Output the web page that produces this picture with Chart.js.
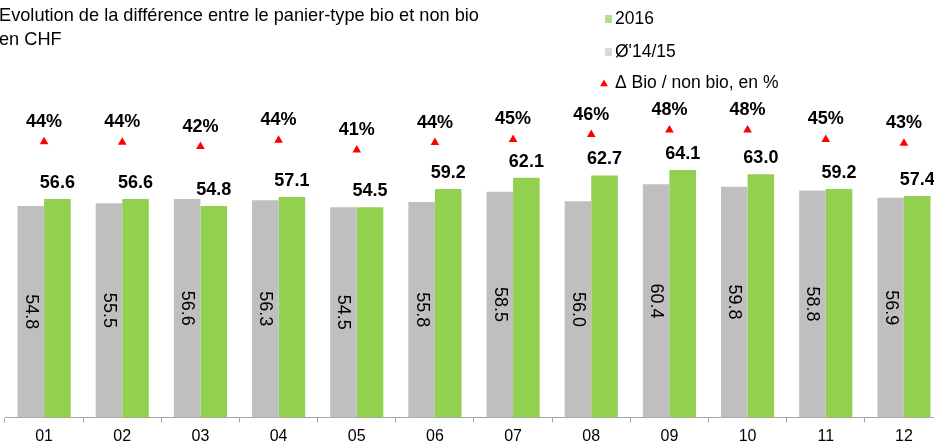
<!DOCTYPE html>
<html>
<head>
<meta charset="utf-8">
<script src="https://cdn.jsdelivr.net/npm/chart.js@4"></script>
<style>
  html, body { margin: 0; padding: 0; overflow: hidden; background: #fff; }
  #wrap { width: 950px; height: 444px; }
</style>
</head>
<body>
<div id="wrap"><canvas id="chart" width="950" height="444"></canvas></div>
<script>
const months = ['01', '02', '03', '04', '05', '06', '07', '08', '09', '10', '11', '12']
const avg1415 = [54.8, 55.5, 56.6, 56.3, 54.5, 55.8, 58.5, 56.0, 60.4, 59.8, 58.8, 56.9]
const values2016 = [56.6, 56.6, 54.8, 57.1, 54.5, 59.2, 62.1, 62.7, 64.1, 63.0, 59.2, 57.4]
const diffPct = [43.9, 43.7, 42.2, 44.4, 41.0, 43.6, 44.7, 46.4, 48.0, 48.0, 44.7, 43.4]
const titleLines = ['Evolution de la différence entre le panier-type bio et non bio', 'en CHF']

const GREEN = '#92d050'
const GREY = '#bfbfbf'
const RED = '#ff0000'
const FONT = '"Liberation Sans", Arial, sans-serif'

const triangle = (ctx, x, y, r) => {
  ctx.beginPath()
  ctx.moveTo(x, y - r)
  ctx.lineTo(x + r * 0.866, y + r * 0.5)
  ctx.lineTo(x - r * 0.866, y + r * 0.5)
  ctx.closePath()
  ctx.fill()
}

// title, legend and value labels
const decorations = {
  id: 'decorations',
  afterDatasetsDraw(chart) {
    const ctx = chart.ctx
    ctx.save()
    ctx.fillStyle = '#000'
    ctx.textAlign = 'center'
    ctx.textBaseline = 'middle'

    // grey bars: rotated value in the middle
    ctx.font = '18px ' + FONT
    chart.getDatasetMeta(0).data.forEach((bar, i) => {
      ctx.save()
      ctx.translate(bar.x, (bar.y + bar.base) / 2)
      ctx.rotate(Math.PI / 2)
      ctx.fillText(avg1415[i].toFixed(1), 0, 0)
      ctx.restore()
    })

    // green bars: bold value above
    ctx.font = 'bold 18px ' + FONT
    chart.getDatasetMeta(1).data.forEach((bar, i) => {
      ctx.fillText(values2016[i].toFixed(1), bar.x, bar.y - 16)
    })

    // percentages above the triangles
    chart.getDatasetMeta(2).data.forEach((pt, i) => {
      ctx.fillText(diffPct[i].toFixed(0) + '%', pt.x, pt.y - 20)
    })

    // title
    ctx.textAlign = 'left'
    ctx.font = '18.2px ' + FONT
    titleLines.forEach((line, i) => ctx.fillText(line, -1, 16 + i * 24))

    // legend, one entry per line
    ctx.font = '17.5px ' + FONT
    const ds = chart.data.datasets
    const entries = [
      { label: ds[1].label, color: '#b4de8c', y: 19 },
      { label: ds[0].label, color: '#d9d9d9', y: 52 },
      { label: ds[2].label, color: RED, y: 83, tri: true },
    ]
    entries.forEach(e => {
      ctx.fillStyle = e.color
      if (e.tri) triangle(ctx, 604, e.y + 1, 4.5)
      else ctx.fillRect(605, e.y - 4, 7, 8)
      ctx.fillStyle = '#000'
      ctx.fillText(e.label, 615, e.y)
    })
    ctx.restore()
  }
}

const chart = new Chart(document.getElementById('chart'), {
  type: 'bar',
  data: {
    labels: months,
    datasets: [{
      label: 'Ø\'14/15',
      data: avg1415,
      backgroundColor: GREY,
      categoryPercentage: 0.68,
      barPercentage: 1.0,
      yAxisID: 'y',
      order: 2,
    }, {
      label: '2016',
      data: values2016,
      backgroundColor: GREEN,
      categoryPercentage: 0.68,
      barPercentage: 1.0,
      yAxisID: 'y',
      order: 2,
    }, {
      type: 'line',
      label: 'Δ Bio / non bio, en %',
      data: diffPct,
      showLine: false,
      pointStyle: 'triangle',
      pointRadius: 5,
      pointBackgroundColor: RED,
      pointBorderColor: RED,
      pointBorderWidth: 0,
      yAxisID: 'y2',
      order: 1,
    }]
  },
  options: {
    responsive: false,
    animation: false,
    devicePixelRatio: 1,
    layout: { padding: { top: 108.7, left: 5, right: 7, bottom: 0 } },
    plugins: {
      legend: { display: false },
      title: { display: false },
      tooltip: { enabled: false },
    },
    scales: {
      x: {
        grid: { offset: true, drawOnChartArea: false, drawTicks: true, tickLength: 5, color: '#a6a6a6' },
        border: { color: '#a6a6a6' },
        ticks: { color: '#000', font: { family: FONT, size: 16 }, padding: 4 },
        afterFit: (axis) => { axis.height = 26.5 },
      },
      y: { display: false, min: 0, max: 80 },
      y2: { display: false, min: -52.6, max: 55.45 },
    }
  },
  plugins: [decorations]
})
</script>
</body>
</html>
